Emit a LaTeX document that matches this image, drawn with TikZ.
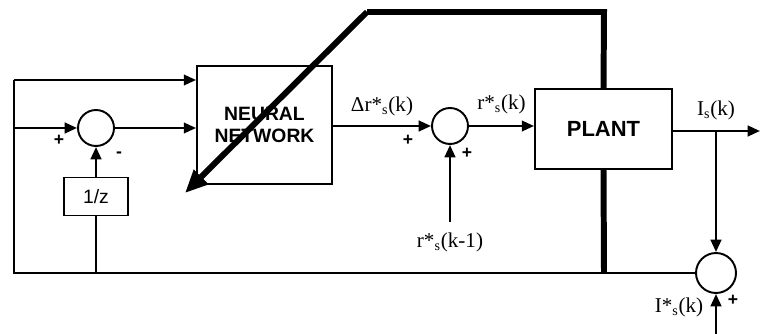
\documentclass[tikz,border=0pt]{standalone}
\usepackage{fontspec}
\setmainfont{Liberation Serif}
\setsansfont{Liberation Sans}
\usetikzlibrary{arrows.meta}
\tikzset{
  blk/.style={draw, line width=1.1pt, font=\sffamily\bfseries\fontsize{12.5}{13}\selectfont, align=center, inner sep=0pt},
  sumnode/.style={draw, circle, line width=1.1pt, minimum size=0.72cm, inner sep=0pt},
  sig/.style={line width=1.4pt},
  sigarr/.style={sig, -{Triangle[length=7pt,width=6pt]}},
  heavy/.style={line width=3.4pt},
  sgn/.style={font=\sffamily\bfseries\fontsize{10}{12}\selectfont},
  lbl/.style={font=\fontsize{12}{14}\selectfont, inner sep=0pt}
}
\begin{document}
\begin{tikzpicture}[x=0.02cm, y=-0.02cm]
    \useasboundingbox (0,0) rectangle (760,334);

    % Blocks
    \node[blk, font=\sffamily\bfseries\fontsize{11}{13}\selectfont, minimum width=2.7cm, minimum height=2.36cm] (nn) at (264.5,125) {NEURAL\\NETWORK};
    \node[blk, minimum width=2.74cm, minimum height=1.6cm] (plant) at (603.5,129) {PLANT};
    \node[blk, font=\sffamily\fontsize{11}{13}\selectfont, minimum width=1.28cm, minimum height=0.76cm] (delay) at (96,196.5) {1/z};

    % Summing junctions
    \node[sumnode] (sumA) at (96,128) {};
    \node[sumnode] (sumB) at (450,126) {};
    \node[sumnode, minimum size=0.8cm] (sumC) at (716,273) {};

    % Helper points
    \coordinate (lb) at (14,273);
    \coordinate (lt) at (14,80);
    \coordinate (lm) at (14,128);
    \coordinate (db) at (96,273);
    \coordinate (rin) at (450,222);
    \coordinate (out) at (760,131);
    \coordinate (br) at (716,131);
    \coordinate (iin) at (716,334);
    \coordinate (wtop) at (367,12);
    \coordinate (wcorner) at (604,12);
    \coordinate (wbot) at (604,273);
    \coordinate (wtip) at (185,193);

    % Signals
    \draw[sig] (sumC.west) -- (lb) -- (lt);
    \draw[sigarr] (lt) -- (lt -| nn.west);
    \draw[sigarr] (lm) -- (sumA.west);
    \draw[sigarr] (sumA.east) -- (sumA -| nn.west);
    \draw[sig] (db) -- (delay.south);
    \draw[sigarr] (delay.north) -- (sumA.south);
    \draw[sigarr] (nn.east |- sumB) -- (sumB.west) node[lbl, midway, above=5pt] {Δr*\textsubscript{s}(k)};
    \draw[sigarr] (sumB.east) -- (sumB -| plant.west) node[lbl, midway, above=6pt] {r*\textsubscript{s}(k)};
    \draw[sigarr] (rin) -- (sumB.south);
    \node[lbl, below=6pt] at (rin) {r*\textsubscript{s}(k-1)};
    \draw[sigarr] (plant.east |- out) -- (out);
    \node[lbl, above=6pt] at (br) {I\textsubscript{s}(k)};
    \draw[sigarr] (br) -- (sumC.north);
    \draw[sigarr] (iin) -- (sumC.south);
    \node[lbl] at (679,307) {I*\textsubscript{s}(k)};

    % Signs
    \node[sgn] at (59,140) {+};
    \node[sgn] at (119,155) {-};
    \node[sgn] at (408,140) {+};
    \node[sgn] at (467,153) {+};
    \node[sgn] at (733,300) {+};

    % Adaptation arrow
    \draw[heavy] (plant.north) -- (wcorner) -- (wtop);
    \draw[heavy, -{Triangle[length=13pt,width=11pt]}] (wtop) -- (wtip);
    \draw[heavy] (plant.south) -- (wbot);
\end{tikzpicture}
\end{document}
